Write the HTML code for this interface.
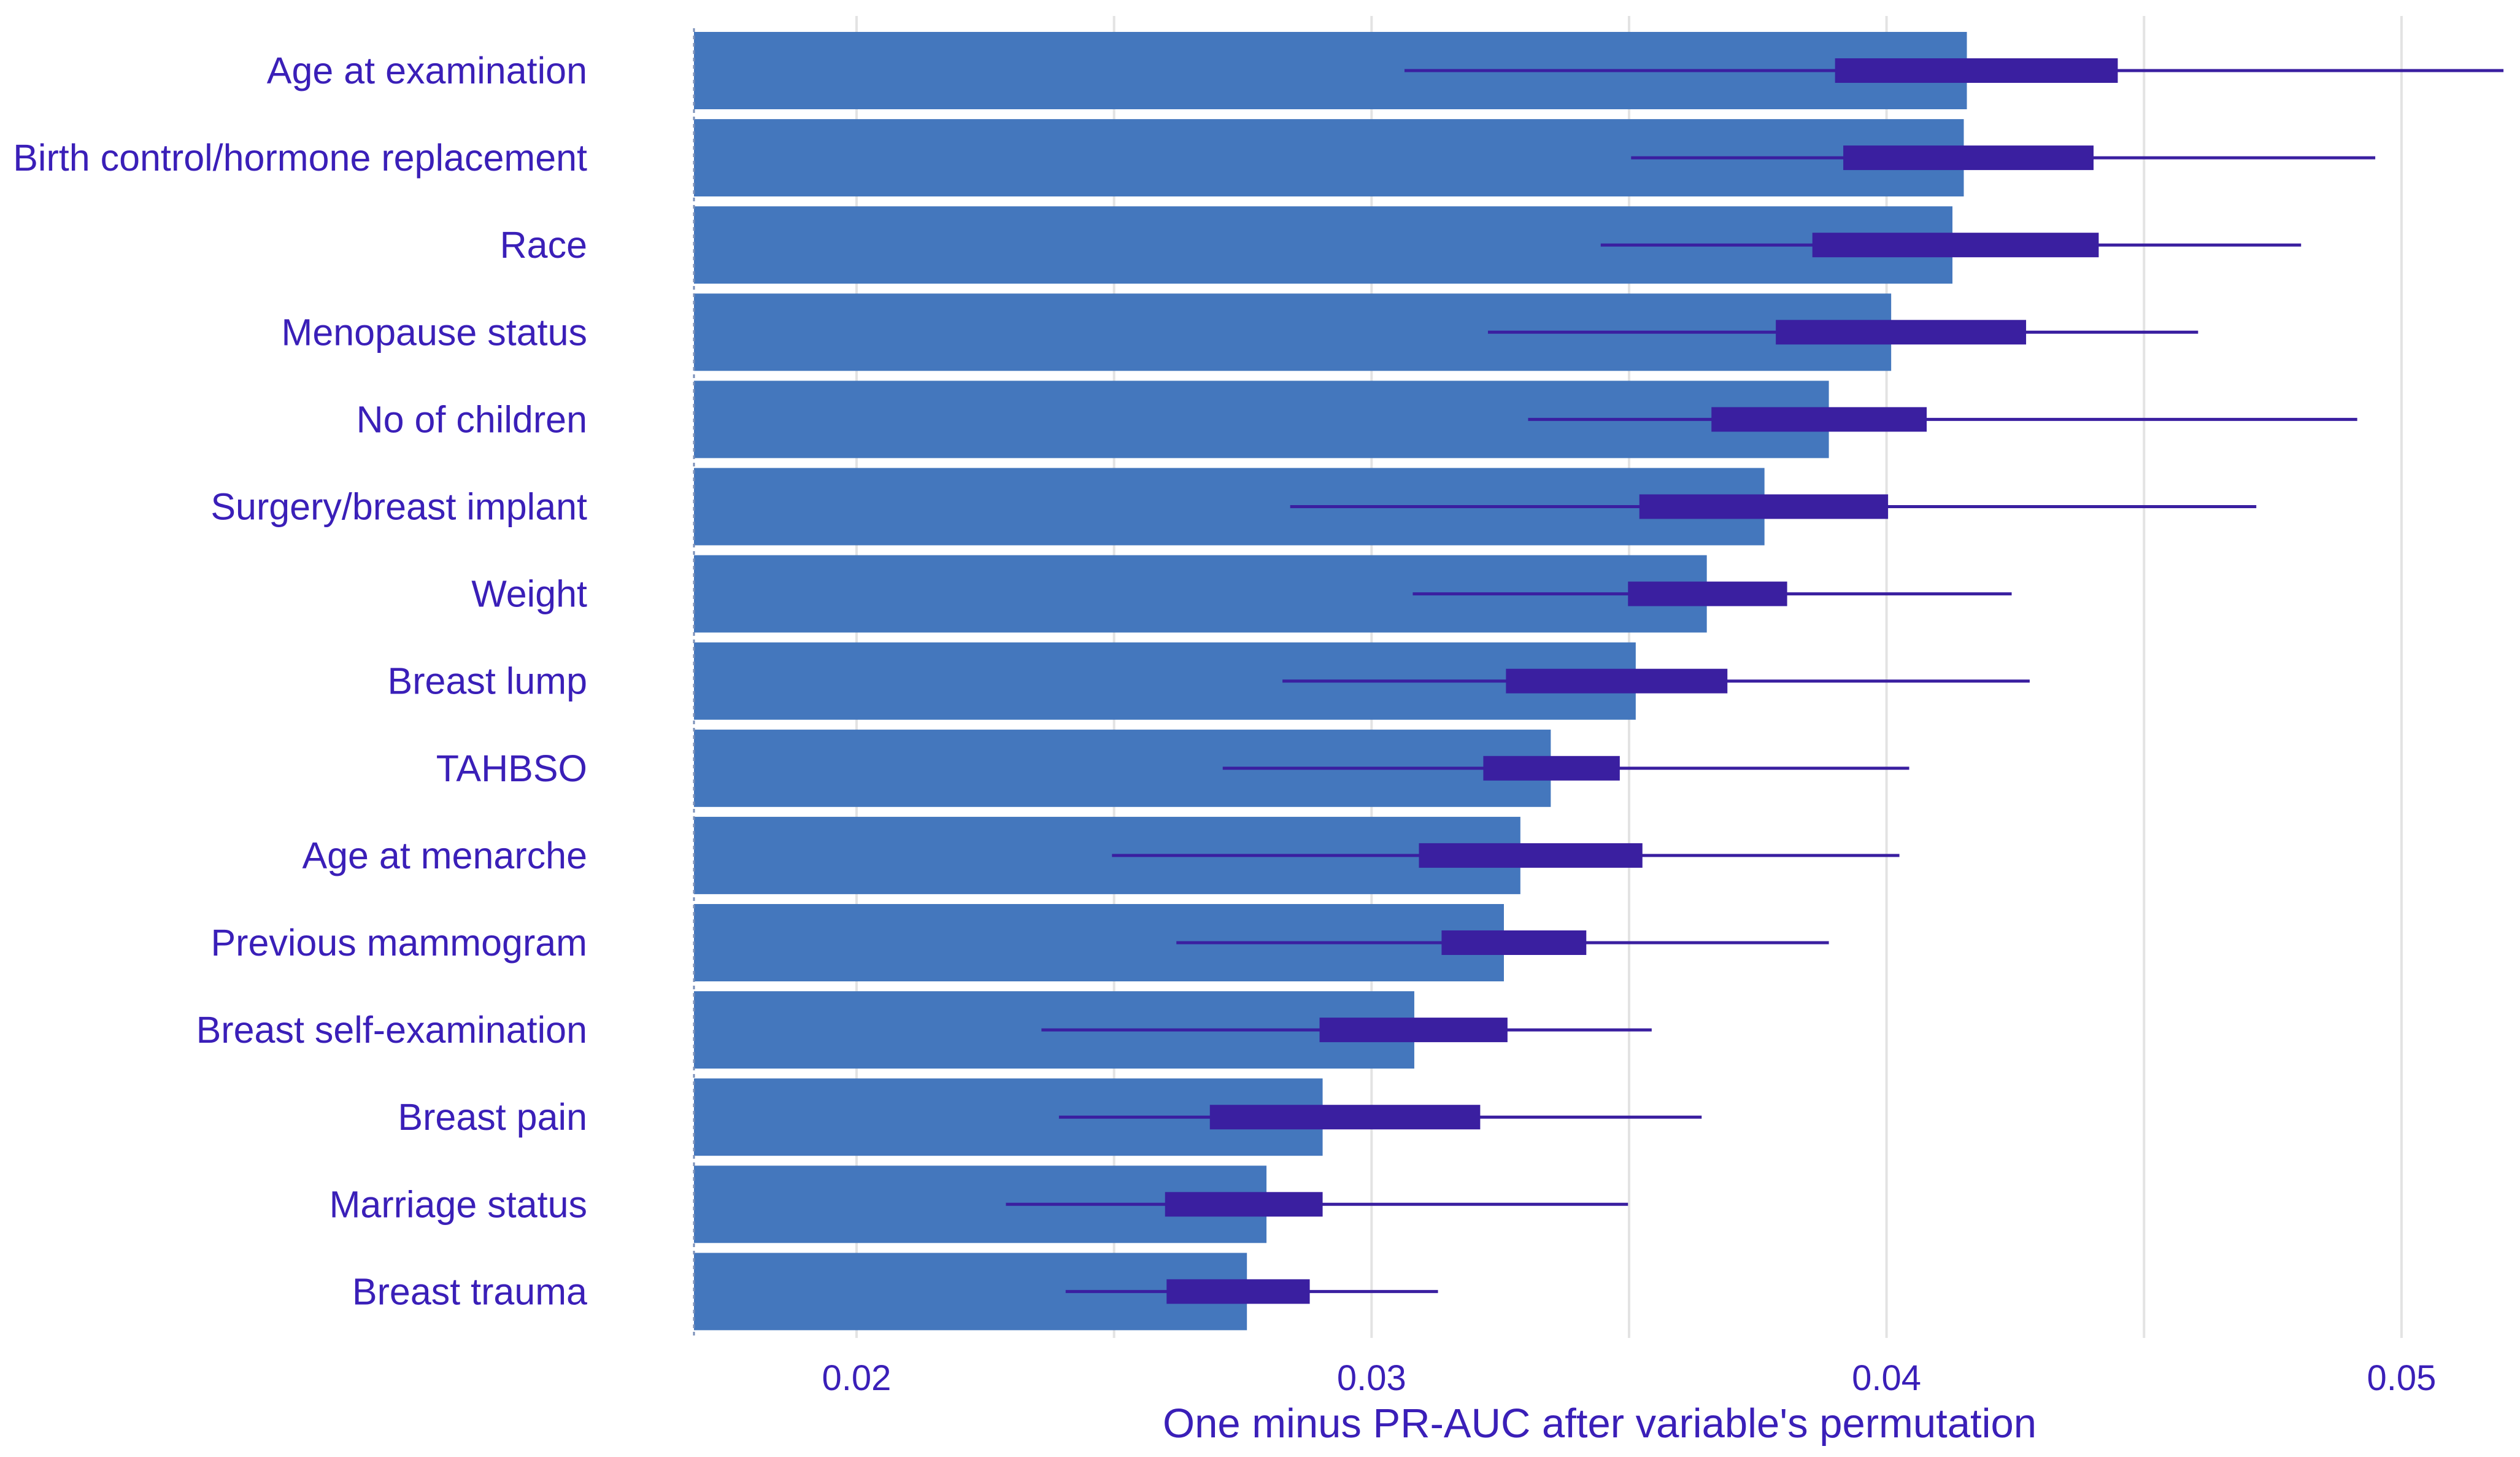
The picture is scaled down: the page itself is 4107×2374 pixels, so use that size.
<!DOCTYPE html>
<html><head><meta charset="utf-8"><style>
html,body{margin:0;padding:0;background:#fff;}
svg{display:block;font-family:"Liberation Sans",sans-serif;}
</style></head><body>
<svg id="chart" width="4107" height="2374" viewBox="0 0 4107 2374" xmlns="http://www.w3.org/2000/svg"></svg>
<script>
const categories = ["Age at examination","Birth control/hormone replacement","Race","Menopause status","No of children","Surgery/breast implant","Weight","Breast lump","TAHBSO","Age at menarche","Previous mammogram","Breast self-examination","Breast pain","Marriage status","Breast trauma"];
const barValues = [0.04156,0.04150,0.04128,0.04009,0.03888,0.03763,0.03651,0.03513,0.03348,0.03289,0.03257,0.03083,0.02905,0.02796,0.02758];
const whiskerMin = [0.03064,0.03504,0.03445,0.03226,0.03304,0.02842,0.03080,0.02827,0.02711,0.02496,0.02621,0.02359,0.02393,0.02290,0.02406];
const q1Values = [0.03900,0.03916,0.03856,0.03785,0.03660,0.03520,0.03498,0.03261,0.03217,0.03092,0.03136,0.02899,0.02686,0.02599,0.02602];
const q3Values = [0.04449,0.04402,0.04412,0.04271,0.04078,0.04003,0.03807,0.03691,0.03482,0.03526,0.03417,0.03264,0.03211,0.02905,0.02880];
const whiskerMax = [0.05198,0.04949,0.04805,0.04605,0.04914,0.04718,0.04243,0.04278,0.04044,0.04025,0.03888,0.03544,0.03641,0.03498,0.03129];
const majorTicks = [0.02,0.03,0.04,0.05];
const minorTicks = [0.025,0.035,0.045];
const tickLabels = ["0.02","0.03","0.04","0.05"];

const NS="http://www.w3.org/2000/svg";
const svg=document.getElementById('chart');
const plotLeft=1131, plotTop=26, plotBottom=2180;
function x(v){return 1396+(v-0.02)*83930;}
function yc(i){return 115+i*142.1;}
function mk(tag,attrs,parent){const e=document.createElementNS(NS,tag);for(const k in attrs)e.setAttribute(k,attrs[k]);(parent||svg).appendChild(e);return e;}

const grid=mk('g',{});


minorTicks.concat(majorTicks).forEach(t=>{
  const l=mk('line',{x1:x(t),x2:x(t),y1:plotTop,y2:plotBottom,stroke:'#e3e3e3','stroke-width':4},grid);
  
  
});

const bars=mk('g',{});


categories.forEach((c,i)=>{
  const r=mk('rect',{x:plotLeft,y:yc(i)-63,width:x(barValues[i])-plotLeft,height:126,fill:'#4477bd'},bars);
  
  
  const w=mk('line',{x1:x(whiskerMin[i]),x2:x(whiskerMax[i]),y1:yc(i),y2:yc(i),stroke:'#3a1fa0','stroke-width':5},bars);
  
  
  const b=mk('rect',{x:x(q1Values[i]),y:yc(i)-20,width:x(q3Values[i])-x(q1Values[i]),height:40,fill:'#3a1fa0'},bars);
  
  
  const t=mk('text',{x:957,y:yc(i)+21,'text-anchor':'end','font-size':61,fill:'#3a1fb8'});
  t.textContent=c;
  
  
});

const ax=mk('line',{x1:plotLeft,x2:plotLeft,y1:plotTop+20,y2:plotBottom,stroke:'#7a8fb8','stroke-width':3,'stroke-dasharray':'6,6'});



majorTicks.forEach((t,i)=>{
  const tl=mk('text',{x:x(t),y:2265,'text-anchor':'middle','font-size':58,fill:'#3a1fb8'});
  tl.textContent=tickLabels[i];
  
  
});
const title=mk('text',{x:2607,y:2342,'text-anchor':'middle','font-size':67,fill:'#3a1fb8'});
title.textContent="One minus PR-AUC after variable's permutation";


</script>
</body></html>
